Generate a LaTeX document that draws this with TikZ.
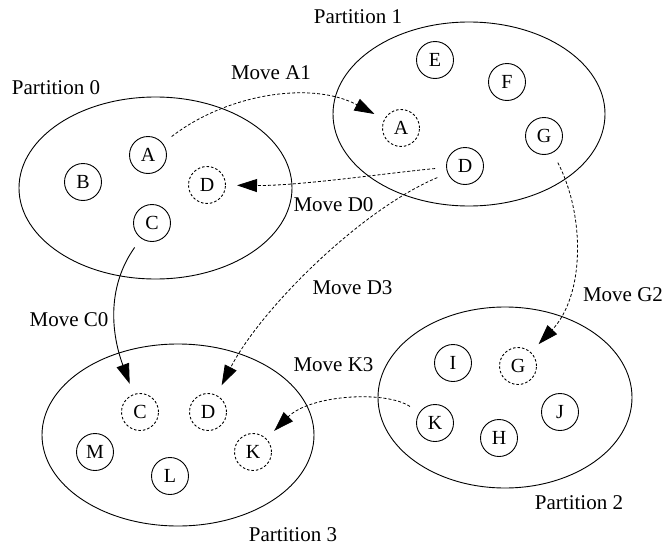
\documentclass[tikz,border=0pt]{standalone}
\usepackage{fontspec}
\setmainfont{Liberation Serif}
\usetikzlibrary{arrows.meta}
\begin{document}
\begin{tikzpicture}[x=1pt,y=-1pt,
  every node/.style={font=\fontsize{20}{24}\selectfont},
  item/.style={circle,draw,line width=0.9pt,minimum size=37pt,inner sep=0pt,outer sep=11.5pt},
  moved/.style={item,dash pattern=on 2.5pt off 2pt},
  part/.style={line width=0.9pt},
  mv/.style={line width=0.8pt,dash pattern=on 3pt off 2pt,-{Triangle[length=20pt,width=13pt]}},
  mvsolid/.style={line width=0.9pt,-{Triangle[length=20pt,width=13pt]}},
  lbl/.style={inner sep=0pt,font=\fontsize{21}{25}\selectfont}]
\useasboundingbox (0,0) rectangle (664,546);
% partitions
\draw[part] (155.5,188) ellipse [x radius=136.5, y radius=91];
\draw[part] (469,114) ellipse [x radius=136, y radius=92];
\draw[part] (505,397.5) ellipse [x radius=127, y radius=90.5];
\draw[part] (178,435) ellipse [x radius=136, y radius=91];
% partition 0
\node[item]  (p0a) at (148,155) {A};
\node[item]  (p0b) at (83,182) {B};
\node[moved] (p0d) at (207,185) {D};
\node[item]  (p0c) at (152,223) {C};
% partition 1
\node[item]  (p1e) at (435,60) {E};
\node[item]  (p1f) at (507,82) {F};
\node[moved] (p1a) at (401,128) {A};
\node[item]  (p1g) at (544,136) {G};
\node[item]  (p1d) at (465,166) {D};
% partition 2
\node[item]  (p2i) at (453,363) {I};
\node[moved] (p2g) at (518,366) {G};
\node[item]  (p2j) at (560,412) {J};
\node[item]  (p2k) at (435,423) {K};
\node[item]  (p2h) at (499,438) {H};
% partition 3
\node[moved] (p3c) at (140,412) {C};
\node[moved] (p3d) at (208,412) {D};
\node[item]  (p3m) at (95,452) {M};
\node[item]  (p3l) at (170,476) {L};
\node[moved] (p3k) at (253,452) {K};
% labels
\node[lbl] (t0) at (56,87.5) {Partition 0};
\node[lbl] (t1) at (358,17) {Partition 1};
\node[lbl] (t2) at (579,502.5) {Partition 2};
\node[lbl] (t3) at (293,535) {Partition 3};
\node[lbl] (la1) at (271,73) {Move A1};
\node[lbl] (ld0) at (333.5,205) {Move D0};
\node[lbl] (ld3) at (352.5,287.5) {Move D3};
\node[lbl] (lc0) at (69,319.5) {Move C0};
\node[lbl] (lg2) at (623,295) {Move G2};
\node[lbl] (lk3) at (333.5,365) {Move K3};
% moves
\draw[mv] (p0a) .. controls (225,95) and (310,80) .. (p1a);
\draw[mv] (p1d) .. controls (395,172) and (300,186) .. (p0d);
\draw[mv] (p1d) .. controls (360,210) and (260,310) .. (p3d);
\draw[mvsolid] (p0c) .. controls (108,285) and (110,330) .. (p3c);
\draw[mv] (p1g) .. controls (585,215) and (585,295) .. (p2g);
\draw[mv] (p2k) .. controls (385,390) and (310,395) .. (p3k);
\end{tikzpicture}
\end{document}
